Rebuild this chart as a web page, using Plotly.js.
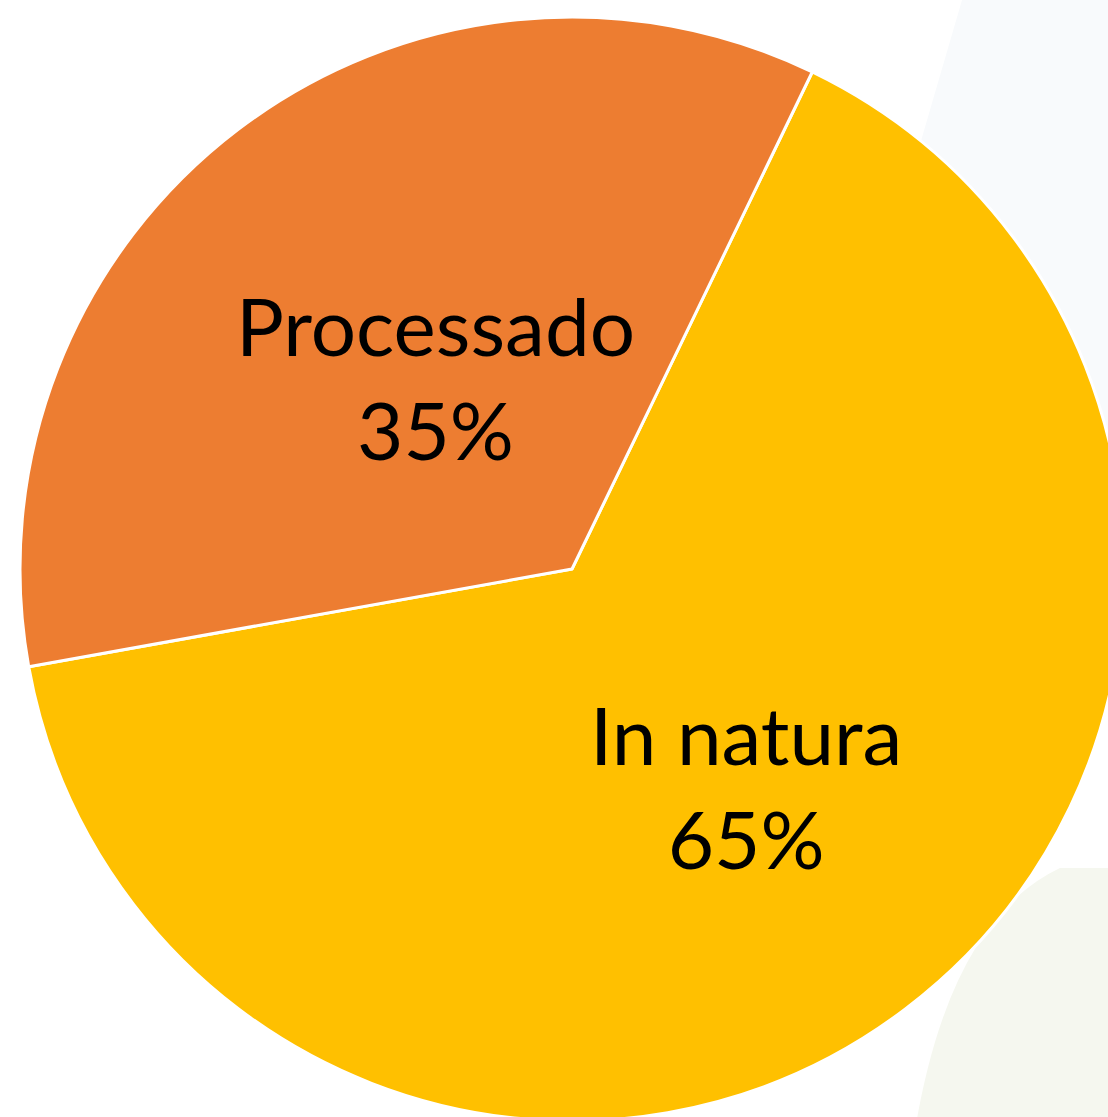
<!DOCTYPE html>
<html>
<head>
<meta charset="utf-8">
<script src="https://cdn.plot.ly/plotly-3.0.1.min.js"></script>
<style>
html,body{margin:0;padding:0;overflow:hidden;background:#ffffff;}
#chart{width:1130px;height:1130px;}
</style>
</head>
<body>
<div id="chart"></div>
<script>
var labels = ["In natura", "Processado"];
var values = [65, 35];
var colors = ["#FFC000", "#ED7D31"];

var ROTATION = 25.8;
var labelRadius = [0.52, 0.41];

var W = 1130, H = 1130, L = 20, T = 17, R = 6, B = 9;
var S = W - L - R;
function px(x){ return ((x - L) / S).toFixed(4); }
function py(y){ return ((H - B - y) / S).toFixed(4); }

var blueRegion = "M" + px(962) + "," + py(0) +
  " L" + px(895) + "," + py(230) + " L" + px(880) + "," + py(400) +
  " L" + px(1130) + "," + py(640) + " L" + px(1130) + "," + py(0) + " Z";
var greenRegion = "M" + px(1060) + "," + py(868) +
  " Q" + px(950) + "," + py(920) + " " + px(915) + "," + py(1130) +
  " L" + px(1130) + "," + py(1130) + " L" + px(1130) + "," + py(868) + " Z";

var total = values.reduce(function(a, b){ return a + b; }, 0);
var annotations = [];
var cum = 0;
for (var i = 0; i < values.length; i++) {
  var mid = (ROTATION + (cum + values[i] / 2) / total * 360) * Math.PI / 180;
  cum += values[i];
  annotations.push({
    xref: "paper", yref: "paper",
    x: 0.5 + labelRadius[i] * 0.5 * Math.sin(mid),
    y: 0.5 + labelRadius[i] * 0.5 * Math.cos(mid),
    xanchor: "center", yanchor: "middle",
    yshift: 12,
    text: labels[i] + "<br>" + Math.round(values[i] / total * 100) + "%",
    showarrow: false,
    align: "center",
    font: { family: "Lato, 'Open Sans', sans-serif", size: 80, color: "#000000" }
  });
}

var data = [{
  type: "pie",
  labels: labels,
  values: values,
  sort: false,
  direction: "clockwise",
  rotation: ROTATION,
  marker: { colors: colors, line: { color: "#ffffff", width: 3 } },
  textinfo: "none",
  hoverinfo: "label+percent",
  showlegend: false
}];

var layout = {
  width: W, height: H,
  margin: { l: L, r: R, t: T, b: B, pad: 0 },
  paper_bgcolor: "#ffffff",
  plot_bgcolor: "#ffffff",
  showlegend: false,
  annotations: annotations,
  shapes: [
    { type: "path", xref: "paper", yref: "paper", path: blueRegion, fillcolor: "#F8FAFC", line: { width: 0 }, layer: "below" },
    { type: "path", xref: "paper", yref: "paper", path: greenRegion, fillcolor: "#F5F7EF", line: { width: 0 }, layer: "below" }
  ]
};

Plotly.newPlot("chart", data, layout, { displayModeBar: false, staticPlot: true });
</script>
</body>
</html>
